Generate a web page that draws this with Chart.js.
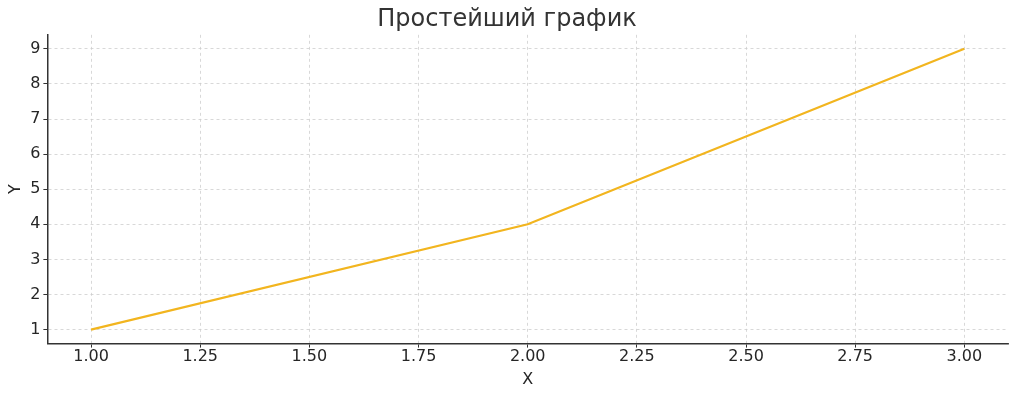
<!DOCTYPE html>
<html>
<head>
<meta charset="utf-8">
<script src="https://cdn.jsdelivr.net/npm/chart.js@4"></script>
<style>
html, body { margin: 0; padding: 0; background: #fff; }
#wrap { width: 1024px; height: 404px; }
</style>
</head>
<body>
<div id="wrap"><canvas id="chart"></canvas></div>
<script>
// data
var xValues = [1, 2, 3];
var yValues = [1, 4, 9];
var xTicks = [1.00, 1.25, 1.50, 1.75, 2.00, 2.25, 2.50, 2.75, 3.00];
var yTicks = [1, 2, 3, 4, 5, 6, 7, 8, 9];

Chart.defaults.font.family = 'DejaVu Sans';
Chart.defaults.color = '#262626';

var points = xValues.map(function(x, i){ return {x: x, y: yValues[i]}; });

function axisGrid(){
	return {
		color: '#cfcfcf',
		lineWidth: 0.8,
		tickColor: '#333',
		tickLength: 4,
		tickWidth: 1,
		tickBorderDash: []
	};
}

new Chart(document.getElementById('chart'), {
	type: 'scatter',
	data: {
		datasets: [{
			data: points,
			showLine: true,
			borderColor: '#f2b51f',
			backgroundColor: '#f2b51f',
			borderWidth: 2.2,
			pointRadius: 0,
			tension: 0
		}]
	},
	options: {
		responsive: true,
		maintainAspectRatio: false,
		animation: false,
		layout: { padding: { left: 6, right: 16, top: 2, bottom: 15 } },
		plugins: {
			legend: { display: false },
			tooltip: { enabled: false },
			title: {
				display: true,
				text: 'Простейший график',
				color: '#333',
				font: { size: 24, weight: 'normal' },
				padding: { top: 3, bottom: 1 }
			}
		},
		scales: {
			x: {
				type: 'linear',
				min: 0.9,
				max: 3.1,
				afterBuildTicks: function(scale){ scale.ticks = xTicks.map(function(v){ return {value: v}; }); },
				ticks: {
					font: { size: 16 },
					padding: 0,
					maxRotation: 0,
					callback: function(v){ return Number(v).toFixed(2); }
				},
				grid: axisGrid(),
				border: { display: true, color: '#333', width: 1.5, dash: [3, 3] },
				title: { display: true, text: 'X', font: { size: 16 }, padding: { top: 3, bottom: 0 } }
			},
			y: {
				type: 'linear',
				min: 0.6,
				max: 9.4,
				afterBuildTicks: function(scale){ scale.ticks = yTicks.map(function(v){ return {value: v}; }); },
				ticks: { font: { size: 16 }, padding: 3 },
				grid: axisGrid(),
				border: { display: true, color: '#333', width: 1.5, dash: [3, 3] },
				title: { display: true, text: 'Y', font: { size: 16 }, padding: { top: 0, bottom: 2 } }
			}
		}
	}
});
</script>
</body>
</html>
